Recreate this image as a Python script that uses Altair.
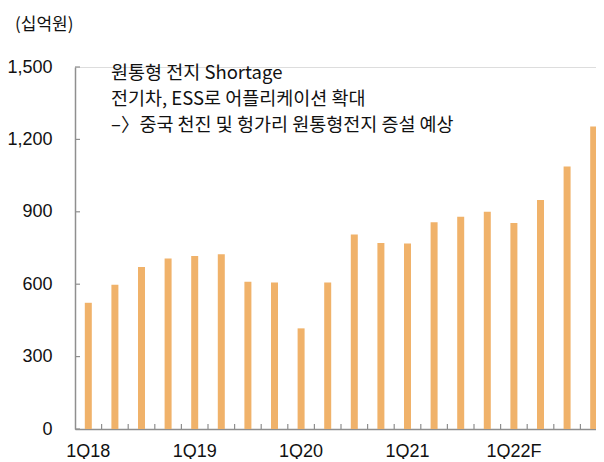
import altair as alt
import pandas as pd

quarters = ["1Q18", "2Q18", "3Q18", "4Q18",
            "1Q19", "2Q19", "3Q19", "4Q19",
            "1Q20", "2Q20", "3Q20", "4Q20",
            "1Q21", "2Q21", "3Q21", "4Q21",
            "1Q22F", "2Q22F", "3Q22F", "4Q22F"]
values = [523, 598, 671, 706, 717, 724, 610, 607, 417, 607,
          806, 771, 769, 857, 879, 900, 854, 949, 1088, 1253]
y_ticks = [0, 300, 600, 900, 1200, 1500]
notes = ["원통형 전지 Shortage",
         "전기차, ESS로 어플리케이션 확대",
         "–〉중국 천진 및 헝가리 원통형전지 증설 예상"]
note_y = [6, 32, 58]
unit_label = "(십억원)"

W, H = 521, 362
BAR = "#F0B26A"
AXIS = "#8f8f8f"
KFONT = "Noto Sans CJK KR"
NFONT = "Liberation Sans"

df = pd.DataFrame({"q": quarters, "v": values})
xsc = alt.Scale(domain=quarters, range=[0, 532], paddingInner=0, paddingOuter=0)
ysc = alt.Scale(domain=[0, 1500], nice=False)

bars = alt.Chart(df).mark_bar(size=7, color=BAR).encode(
    x=alt.X("q:N", scale=xsc, sort=quarters, title=None,
            axis=alt.Axis(labelAngle=0, ticks=False, labelPadding=13,
                          labelExpr="indexof(datum.label, '1Q') == 0 ? datum.label : ''",
                          domainColor=AXIS, domainWidth=1.5,
                          labelFont=NFONT, labelFontSize=18, labelColor="#111")),
    y=alt.Y("v:Q", scale=ysc, title=None,
            axis=alt.Axis(values=y_ticks, format=",.0f", ticks=False, grid=False,
                          labelPadding=23, domainColor=AXIS, domainWidth=1.5,
                          labelFont=NFONT, labelFontSize=18, labelColor="#111")),
)

xt = alt.Chart(pd.DataFrame({"q": quarters[1:]})).mark_rule(color=AXIS, strokeWidth=1.2).encode(
    x=alt.X("q:N", scale=xsc, sort=quarters, bandPosition=0),
    y=alt.value(H - 5), y2=alt.value(H),
)

yt = alt.Chart(pd.DataFrame({"v": y_ticks})).mark_rule(color=AXIS, strokeWidth=1.2).encode(
    y=alt.Y("v:Q", scale=ysc),
    x=alt.value(0), x2=alt.value(5),
)

note_layers = [
    alt.Chart(pd.DataFrame({"t": [t]})).mark_text(
        align="left", baseline="middle", font=KFONT, fontSize=18.5, color="#111").encode(
        text="t:N", x=alt.value(36), y=alt.value(yy))
    for t, yy in zip(notes, note_y)
]

unit = alt.Chart(pd.DataFrame({"t": [unit_label]})).mark_text(
    align="left", baseline="middle", font=KFONT, fontSize=17, color="#111").encode(
    text="t:N", x=alt.value(-60), y=alt.value(-42))

chart = alt.layer(bars, xt, yt, *note_layers, unit).properties(
    width=W, height=H,
    autosize=alt.AutoSizeParams(type="none"),
    padding={"left": 67, "top": 59, "right": 0, "bottom": 30},
).configure_view(stroke=None).configure(background="white")

chart.save("out.html", embed_options={"renderer": "svg", "actions": False})
